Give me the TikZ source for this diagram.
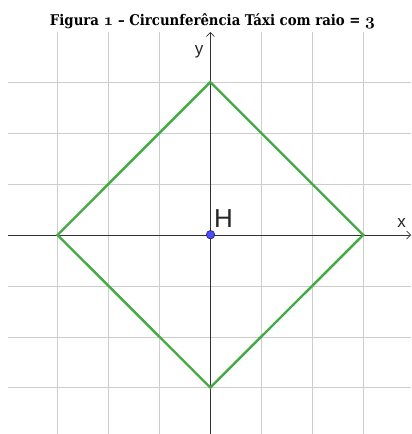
\documentclass[tikz,border=0pt]{standalone}
\usepackage{graphicx}
\usepackage{fontspec}
\newfontfamily\lsans{Liberation Sans}
\newfontfamily\titlefont{DejaVu Serif Condensed}
\usetikzlibrary{arrows.meta}
\definecolor{gridgray}{RGB}{205,205,205}
\definecolor{axisgray}{RGB}{50,50,50}
\definecolor{taxigreen}{RGB}{68,170,68}
\definecolor{pointblue}{RGB}{77,77,255}
\definecolor{pointedge}{RGB}{30,30,90}
\newcommand\osnum[1]{{\usefont{OML}{cmm}{b}{it}\fontsize{18}{18}\selectfont#1}}
\begin{document}
\begin{tikzpicture}[x=1pt,y=-1pt,
  gridline/.style={draw=gridgray,line width=1pt},
  axisline/.style={draw=axisgray,line width=0.9pt,-{Straight Barb[length=4pt,width=8pt,line width=0.7pt]}},
  taxi/.style={draw=taxigreen,line width=2.4pt},
  axlabel/.style={font=\lsans\fontsize{17}{17}\selectfont,inner sep=0pt,text=black!85},
  ptlabel/.style={font=\lsans\fontsize{26}{26}\selectfont,inner sep=0pt,text=black!85},
  titletext/.style={font=\titlefont\fontsize{15}{18}\selectfont\bfseries,inner sep=0pt}]
\useasboundingbox (0,0) rectangle (412,434);
% grid
\foreach \gx in {57.5,108.6,159.6,261.3,312.3,363.2}
  \draw[gridline] (\gx,32) -- (\gx,434);
\foreach \gy in {82,133,184,286,337,387.5}
  \draw[gridline] (8,\gy) -- (411,\gy);
% axes
\coordinate (xs) at (8,235);
\coordinate (xe) at (411,235);
\coordinate (ys) at (210.3,434);
\coordinate (ye) at (210.3,32);
\draw[axisline] (xs) -- (xe);
\draw[axisline] (ys) -- (ye);
\node[axlabel,anchor=base] (xl) at (401.5,227) {x};
\node[axlabel,anchor=base] (yl) at (199,54) {y};
% taxi circle
\coordinate (T) at (210.3,82);
\coordinate (R) at (363.2,235);
\coordinate (B) at (210.3,387.5);
\coordinate (L) at (57.5,235);
\draw[taxi] (T) -- (R) -- (B) -- (L) -- cycle;
% centre H
\node[circle,fill=pointblue,draw=pointedge,line width=0.6pt,inner sep=0pt,minimum size=8.5pt] (H) at (210.5,234.7) {};
\node[ptlabel,anchor=base west] (Hl) at (214,227) {H};
% title
\node[titletext,anchor=base] (title) at (212.5,25) {\resizebox{325pt}{!}{Figura \osnum{1} – Circunferência Táxi com raio = \osnum{3}}};
\end{tikzpicture}
\end{document}
